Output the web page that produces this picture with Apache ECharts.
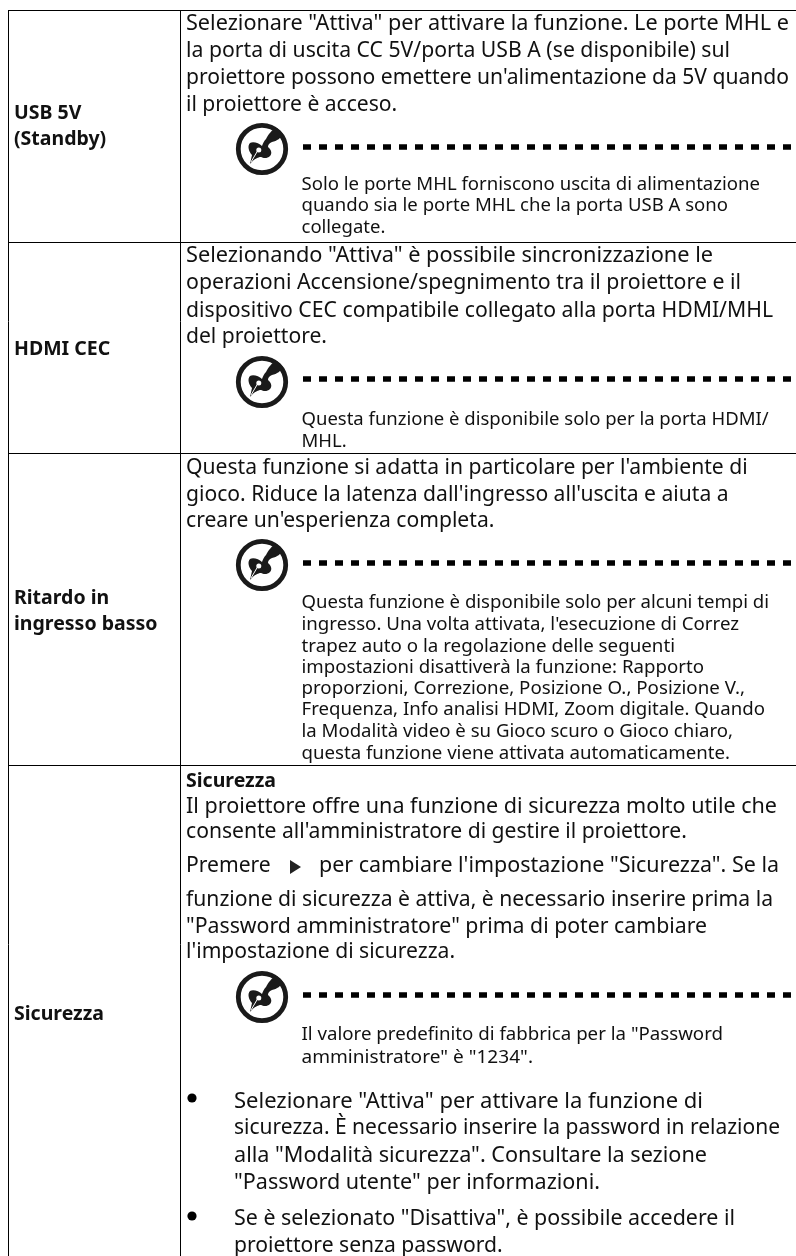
<!DOCTYPE html>
<html><head><meta charset="utf-8">
<style>html,body{margin:0;padding:0;background:#fff}#c{width:796px;height:1256px}</style>
<script src="https://cdn.jsdelivr.net/npm/echarts@6/dist/echarts.min.js"></script>
</head><body><div id="c"></div>
<script>
const rowLabels = [["USB 5V","(Standby)"],["HDMI CEC"],["Ritardo in","ingresso basso"],["Sicurezza"]];
const usbMain = ['Selezionare "Attiva" per attivare la funzione. Le porte MHL e','la porta di uscita CC 5V/porta USB A (se disponibile) sul','proiettore possono emettere un\'alimentazione da 5V quando','il proiettore è acceso.'];
const usbNote = ['Solo le porte MHL forniscono uscita di alimentazione','quando sia le porte MHL che la porta USB A sono','collegate.'];
const hdmiMain = ['Selezionando "Attiva" è possibile sincronizzazione le','operazioni Accensione/spegnimento tra il proiettore e il','dispositivo CEC compatibile collegato alla porta HDMI/MHL','del proiettore.'];
const hdmiNote = ['Questa funzione è disponibile solo per la porta HDMI/','MHL.'];
const ritMain = ['Questa funzione si adatta in particolare per l\'ambiente di','gioco. Riduce la latenza dall\'ingresso all\'uscita e aiuta a','creare un\'esperienza completa.'];
const ritNote = ['Questa funzione è disponibile solo per alcuni tempi di','ingresso. Una volta attivata, l\'esecuzione di Correz','trapez auto o la regolazione delle seguenti','impostazioni disattiverà la funzione: Rapporto','proporzioni, Correzione, Posizione O., Posizione V.,','Frequenza, Info analisi HDMI, Zoom digitale. Quando','la Modalità video è su Gioco scuro o Gioco chiaro,','questa funzione viene attivata automaticamente.'];
const secHead = 'Sicurezza';
const secMain = ['Il proiettore offre una funzione di sicurezza molto utile che','consente all\'amministratore di gestire il proiettore.'];
const secPress = ['Premere','per cambiare l\'impostazione "Sicurezza". Se la'];
const secMain2 = ['funzione di sicurezza è attiva, è necessario inserire prima la','"Password amministratore" prima di poter cambiare','l\'impostazione di sicurezza.'];
const secNote = ['Il valore predefinito di fabbrica per la "Password','amministratore" è "1234".'];
const bullet1 = ['Selezionare "Attiva" per attivare la funzione di','sicurezza. È necessario inserire la password in relazione','alla "Modalità sicurezza". Consultare la sezione','"Password utente" per informazioni.'];
const bullet2 = ['Se è selezionato "Disattiva", è possibile accedere il','proiettore senza password.'];

const FONT = '"Noto Sans"', INK = '#111';
const MAIN = 21.1, NOTE = 18.5, BOLD = 19.5;
const ctx = document.createElement('canvas').getContext('2d');
const els = [];
function line(txt, x, base, fs, bold, endX) {
  const font = (bold?'700 ':'')+fs+'px '+FONT;
  ctx.font = font;
  const sx = endX ? (endX-x)/ctx.measureText(txt).width : 1;
  els.push({type:'text', x, y: base - 0.36*fs + 3, scaleX:sx, silent:true,
    style:{text:txt, fill:INK, font, textAlign:'left', textVerticalAlign:'middle'}});
}
function block(arr, x, bases, fs, bold, ends){ arr.forEach((t,i)=>line(t,x,bases[i],fs,bold,ends&&ends[i])); }
function rule(x1,y1,x2,y2){ els.push({type:'line', silent:true, shape:{x1,y1,x2,y2}, style:{stroke:'#000',lineWidth:1}}); }
const NIB = 'M-12 15L-10 6C-13 3-15-3-12-6C-9-8-3-6 0-3C1-6 2-8 4-10C6-14 10-20 15-21L21-15C19-11 15-8 10-7C7-6 6-4 6-2C10 1 10 5 8 7C5 10 1 9-1 8C-4 8-8 10-12 15Z';
echarts.graphic.registerShape('nib', echarts.graphic.extendPath(NIB, {}));
function note(cy, dashY){
  els.push({type:'circle', silent:true, shape:{cx:262,cy,r:23.7}, style:{fill:'none',stroke:'#1a1a1a',lineWidth:4.8}});
  els.push({type:'nib', silent:true, x:262, y:cy, style:{fill:'#1a1a1a'}});
  els.push({type:'circle', silent:true, shape:{cx:258.8,cy:cy+1,r:2.5}, style:{fill:'#fff'}});
  els.push({type:'line', silent:true, shape:{x1:257.5,y1:cy+2,x2:251,y2:cy+13}, style:{stroke:'#fff',lineWidth:1}});
  els.push({type:'line', silent:true, shape:{x1:303,y1:dashY,x2:791,y2:dashY}, style:{stroke:'#000',lineWidth:5.5,lineDash:[8,8]}});
}
[10,242,453,765].forEach(y=>rule(8,y+0.5,796,y+0.5));
rule(8.5,10,8.5,1256); rule(180.5,10,180.5,1256);
block(rowLabels[0],14,[117,143],BOLD,true);
block(rowLabels[1],14,[353],BOLD,true);
block(rowLabels[2],14,[602,628],BOLD,true);
block(rowLabels[3],14,[1018],BOLD,true);
block(usbMain,186,[29,56,83,110],MAIN,false,[789,730,789]); note(149,147);
block(usbNote,301.5,[188,209,231],NOTE,false,[760,728]);
block(hdmiMain,186,[261,288,316,342],MAIN,false,[713,741,773]); note(382,379);
block(hdmiNote,301.5,[423,445],NOTE);
block(ritMain,186,[473,500,526],MAIN); note(565,563);
block(ritNote,301.5,[606,628,650,671,692,713,735,757],NOTE,false,[769,739,675,704,745,765,733,730]);
line(secHead,186,785,BOLD,true);
block(secMain,186,[812,837],MAIN,false,[777]);
line(secPress[0],186,871,MAIN); line(secPress[1],319,871,MAIN,false,779);
els.push({type:'polygon', silent:true, shape:{points:[[290,860],[301,867],[290,874]]}, style:{fill:'#222'}});
block(secMain2,186,[905,932,957],MAIN,false,[773,707]);
note(997,995);
block(secNote,301.5,[1038,1061],NOTE,false,[723,533]);
els.push({type:'circle', silent:true, shape:{cx:192,cy:1098,r:4.6}, style:{fill:'#000'}});
block(bullet1,234,[1107,1133,1161,1188],MAIN,false,[703,780,707,600]);
els.push({type:'circle', silent:true, shape:{cx:192,cy:1216,r:4.6}, style:{fill:'#000'}});
block(bullet2,234,[1224,1251],MAIN,false,[735]);

const chart = echarts.init(document.getElementById('c'),null,{renderer:'canvas'});
chart.setOption({animation:false, backgroundColor:'#fff', graphic:{elements:els}});
</script></body></html>
